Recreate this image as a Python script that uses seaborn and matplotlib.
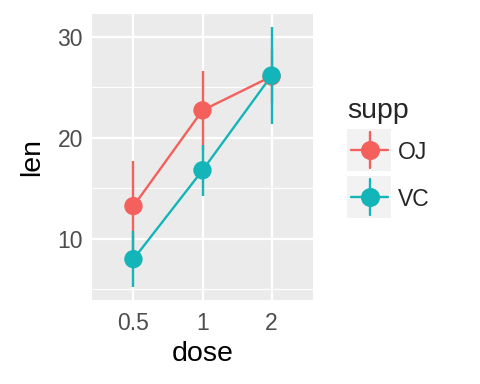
import matplotlib
matplotlib.use('Agg')
import matplotlib.pyplot as plt
import seaborn as sns
import pandas as pd
import numpy as np
from matplotlib.patches import Rectangle
from matplotlib.lines import Line2D

# Datos (media y desviación estándar de len por supp y dose)
dosis = ['0.5', '1', '2']
supps = ['OJ', 'VC']
media_oj = [13.23, 22.70, 26.06]
media_vc = [7.98, 16.77, 26.14]
sd_oj = [4.46, 3.91, 2.66]
sd_vc = [2.75, 2.52, 4.80]

colores = {'OJ': '#F4605B', 'VC': '#14B5B9'}

sns.set_theme(style='white')
plt.rcParams['font.family'] = ['Liberation Sans', 'DejaVu Sans']

df = pd.DataFrame({
    'dose': dosis * 2,
    'pos': list(range(len(dosis))) * 2,
    'len': media_oj + media_vc,
    'sd': sd_oj + sd_vc,
    'supp': ['OJ'] * 3 + ['VC'] * 3,
})

fig = plt.figure(figsize=(4.8, 3.84), dpi=100)
ax = fig.add_axes([92 / 480, 1 - 300 / 384, (313 - 92) / 480, (300 - 14) / 384])
ax.set_facecolor('#EBEBEB')

# Líneas
sns.lineplot(data=df, x='pos', y='len', hue='supp', palette=colores,
             linewidth=1.7, legend=False, ax=ax, zorder=2)

# Barras de error y puntos
for i, s in enumerate(supps):
    sub = df[df['supp'] == s]
    ax.vlines(sub['pos'], sub['len'] - sub['sd'], sub['len'] + sub['sd'],
              color=colores[s], linewidth=1.7, zorder=3 + i)
    sns.scatterplot(data=sub, x='pos', y='len', color=colores[s], s=175,
                    edgecolor='none', ax=ax, zorder=3 + i, legend=False)

ax.set_xlim(-0.6, 2.6)
ax.set_ylim(3.94, 32.23)
ax.set_xticks(range(len(dosis)))
ax.set_xticklabels(dosis)
ax.set_yticks([10, 20, 30])
ax.set_yticks([5, 15, 25], minor=True)
ax.set_xticks([], minor=True)
ax.grid(True, which='major', color='white', linewidth=1.6)
ax.grid(True, which='minor', axis='y', color='white', linewidth=0.8)
ax.set_axisbelow(True)
for sp in ax.spines.values():
    sp.set_visible(False)
ax.tick_params(axis='both', which='major', length=4.3, width=1.2, color='#333333',
               labelcolor='#4D4D4D', labelsize=16.5)
ax.tick_params(axis='x', which='major', pad=4.5)
ax.tick_params(axis='y', which='major', pad=2.2)
ax.tick_params(axis='both', which='minor', length=0)
ax.set_xlabel('dose', fontsize=20.5, color='black', labelpad=4)
ax.set_ylabel('len', fontsize=20.5, color='black', labelpad=9)

# Leyenda manual en coordenadas de píxel
lax = fig.add_axes([0, 0, 1, 1], zorder=-1)
lax.set_xlim(0, 480)
lax.set_ylim(384, 0)
lax.axis('off')
lax.text(347, 118, 'supp', fontsize=20.5, ha='left', va='baseline')
for j, s in enumerate(supps):
    cy = 150 + j * 46.5
    lax.add_patch(Rectangle((347, cy - 21), 44, 42, facecolor='#F2F2F2', edgecolor='none'))
    lax.add_line(Line2D([351, 388], [cy, cy], color=colores[s], linewidth=1.7))
    lax.add_line(Line2D([369.5, 369.5], [cy - 18, cy + 18], color=colores[s], linewidth=1.7))
    lax.plot([369.5], [cy], 'o', color=colores[s], markersize=13.7, markeredgewidth=0)
    lax.text(398, cy, s, fontsize=16.5, ha='left', va='center_baseline')

fig.savefig('out.png', dpi=100)
